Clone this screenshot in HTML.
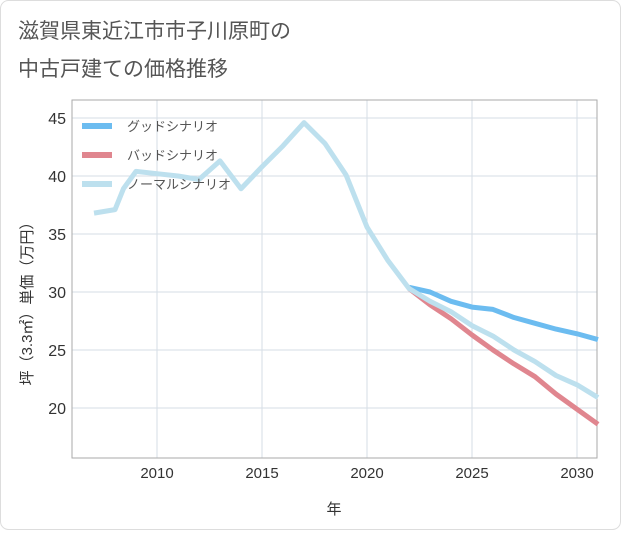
<!DOCTYPE html>
<html><head><meta charset="utf-8"><style>
body{margin:0;background:#fff;}
#wrap{width:621px;height:530px;position:relative;font-family:"Liberation Sans","Noto Sans CJK JP",sans-serif;}
</style></head><body>
<div id="wrap">
<svg id="c" width="621" height="530">
<rect x="0.5" y="0.5" width="620" height="529" rx="8" fill="#fff" stroke="#ddd"/>
<text x="18" y="38" font-size="21" fill="#555">滋賀県東近江市市子川原町の</text>
<text x="18" y="76" font-size="21" fill="#555">中古戸建ての価格推移</text>
</svg>
</div>
<script>
const years=[2007,2008,2008.4,2009,2010,2011,2012,2013,2014,2015,2016,2017,2018,2019,2020,2021,2022,2023,2024,2025,2026,2027,2028,2029,2030,2031];
const normal=[36.8,37.1,38.9,40.4,40.2,40.0,39.7,41.3,38.9,40.8,42.6,44.6,42.8,40.1,35.6,32.7,30.3,29.2,28.3,27.1,26.2,25.0,24.0,22.8,22.0,20.9];
const futureYears=[2022,2023,2024,2025,2026,2027,2028,2029,2030,2031];
const good=[30.4,30.0,29.2,28.7,28.5,27.8,27.3,26.8,26.4,25.9];
const bad=[30.3,28.9,27.7,26.3,25.0,23.8,22.7,21.2,19.9,18.6];
const xTicks=[2010,2015,2020,2025,2030];
const yTicks=[20,25,30,35,40,45];
const legendLabels=["グッドシナリオ","バッドシナリオ","ノーマルシナリオ"];
const NS="http://www.w3.org/2000/svg";
const svg=document.getElementById('c');
const L=72,R=597,T=100,B=458;
const x=v=>157+(v-2010)*21;
const y=v=>408-(v-20)*11.6;
function mk(tag,attrs,text){const e=document.createElementNS(NS,tag);for(const k in attrs)e.setAttribute(k,attrs[k]);if(text!==undefined)e.textContent=text;svg.appendChild(e);return e;}
const frame=mk('rect',{x:L,y:T,width:R-L,height:B-T,fill:'none',stroke:'#aaa'});


xTicks.forEach(t=>{
 const g=mk('line',{x1:x(t),x2:x(t),y1:T,y2:B,stroke:'#d5dde6'});
 
 
 const l=mk('text',{x:x(t),y:B+20,'text-anchor':'middle','font-size':15,fill:'#333'},t);
 
 
});
yTicks.forEach(t=>{
 const g=mk('line',{x1:L,x2:R,y1:y(t),y2:y(t),stroke:'#d5dde6'});
 
 
 const l=mk('text',{x:L-6,y:y(t)+6,'text-anchor':'end','font-size':16,fill:'#333'},t);
 
 
});
const xt=mk('text',{x:334,y:514,'text-anchor':'middle','font-size':15,fill:'#333'},'年');


const yt=mk('text',{x:0,y:0,'text-anchor':'middle','font-size':15,fill:'#333',transform:'translate(32,300) rotate(-90)'},'坪（3.3㎡）単価（万円）');


function line(xs,vs,color,name){
 const p=mk('polyline',{points:xs.map((v,i)=>x(v)+','+y(vs[i])).join(' '),fill:'none',stroke:color,'stroke-width':5,'stroke-linejoin':'round'});
 
 
}
svg.appendChild(frame);
line(futureYears,good,'#6cbcf0','good-scenario-line');
line(futureYears,bad,'#e0868f','bad-scenario-line');
line(years,normal,'#bde0ee','normal-scenario-line');
const legColors=['#6cbcf0','#e0868f','#bde0ee'];
legendLabels.forEach((s,i)=>{
 const yy=126+i*29;
 const sw=mk('rect',{x:82,y:yy-3,width:30,height:6,fill:legColors[i]});
 
 
 const tx=mk('text',{x:127,y:yy+5,'font-size':13,fill:'#555'},s);
 
 
});
</script>
</body></html>
